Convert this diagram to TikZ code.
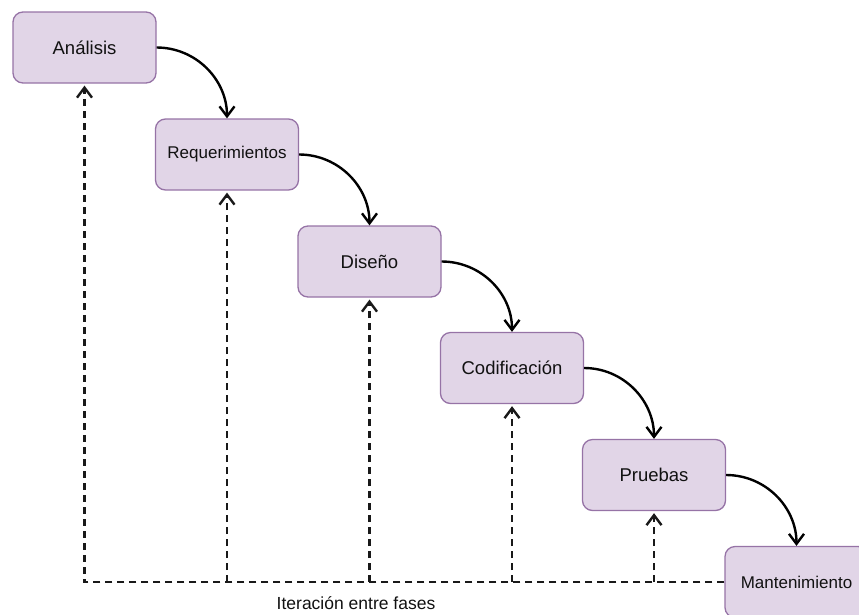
\documentclass[tikz,border=0pt]{standalone}
\usepackage{fontspec}
\setmainfont{Liberation Sans}
\usetikzlibrary{arrows.meta,calc}
\definecolor{boxfill}{HTML}{E1D5E7}
\definecolor{boxdraw}{HTML}{9673A6}
\definecolor{txt}{HTML}{111111}
\tikzset{
  phase/.style={draw=boxdraw, fill=boxfill, line width=1.3pt, rounded corners=10pt,
    minimum width=143pt, minimum height=71pt, inner sep=0pt, text=txt,
    font=\fontsize{18.5}{20}\selectfont},
  small/.style={font=\fontsize{17}{19}\selectfont},
  flow/.style={draw=black, line width=2.4pt,
    -{Straight Barb[length=10pt,width=15pt,line width=2.4pt]}},
  iter/.style={draw=black!90, line width=2.4pt, dash pattern=on 7pt off 5pt},
  iterarrow/.style={iter, -{Straight Barb[length=10pt,width=15pt,line width=2.4pt]}, shorten >=2pt},
}
\begin{document}
\begin{tikzpicture}[x=1pt,y=-1pt]
\useasboundingbox (0,0) rectangle (859,614);
\node[phase] (ana) at (84.5,47.5) {Análisis};
\node[phase,small] (req) at (227,154.5) {Requerimientos};
\node[phase] (dis) at (369.5,261.5) {Diseño};
\node[phase] (cod) at (512,368) {Codificación};
\node[phase] (pru) at (654,475) {Pruebas};
\node[phase,small] (man) at (796.5,582) {Mantenimiento};

\draw[flow] (ana.east) to[out=0,in=90] (req.north);
\draw[flow] (req.east) to[out=0,in=90] (dis.north);
\draw[flow] (dis.east) to[out=0,in=90] (cod.north);
\draw[flow] (cod.east) to[out=0,in=90] (pru.north);
\draw[flow] (pru.east) to[out=0,in=90] (man.north);

\draw[iterarrow] (man.west) -| (ana.south);
\coordinate (jreq) at (req.south |- man.west);
\coordinate (jdis) at (dis.south |- man.west);
\coordinate (jcod) at (cod.south |- man.west);
\coordinate (jpru) at (pru.south |- man.west);
\draw[iterarrow] (jreq) -- (req.south);
\draw[iterarrow] (jdis) -- (dis.south);
\draw[iterarrow] (jcod) -- (cod.south);
\draw[iterarrow] (jpru) -- (pru.south);

\coordinate (lab) at (356,603);
\node[text=txt, font=\fontsize{17.5}{19}\selectfont] (labtxt) at (lab) {Iteración entre fases};
\end{tikzpicture}
\end{document}
